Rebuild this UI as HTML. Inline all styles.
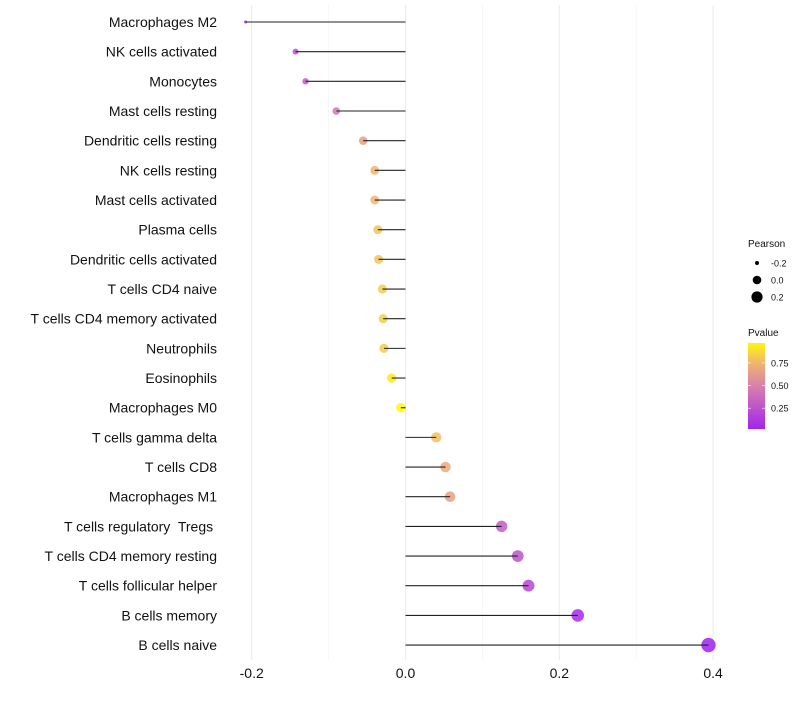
<!DOCTYPE html>
<html><head><meta charset="utf-8"><style>
body{margin:0;background:#fff;font-family:"Liberation Sans",sans-serif;}
svg text{font-family:"Liberation Sans",sans-serif;white-space:pre;}
</style></head><body>
<svg id="chart" width="800" height="700"></svg>
<script>
const categories=["Macrophages M2","NK cells activated","Monocytes","Mast cells resting","Dendritic cells resting","NK cells resting","Mast cells activated","Plasma cells","Dendritic cells activated","T cells CD4 naive","T cells CD4 memory activated","Neutrophils","Eosinophils","Macrophages M0","T cells gamma delta","T cells CD8","Macrophages M1","T cells regulatory  Tregs ","T cells CD4 memory resting","T cells follicular helper","B cells memory","B cells naive"];
const pearson=[-0.208,-0.143,-0.130,-0.090,-0.055,-0.040,-0.040,-0.036,-0.035,-0.030,-0.029,-0.028,-0.018,-0.006,0.040,0.052,0.058,0.125,0.146,0.160,0.224,0.394];
const pvalue=[0.02,0.25,0.3,0.45,0.65,0.75,0.75,0.8,0.8,0.83,0.83,0.83,0.93,0.98,0.78,0.7,0.65,0.3,0.25,0.2,0.05,0.0];
const xTicks=[-0.2,0,0.2,0.4];
const xTickLabels=["-0.2","0.0","0.2","0.4"];
const minorTicks=[-0.1,0.1,0.3];
const sizeLegend=[-0.2,0,0.2];
const colorLegendTicks=[0.25,0.5,0.75];

const NS="http://www.w3.org/2000/svg";
const svg=document.getElementById('chart');
function el(t,a){const e=document.createElementNS(NS,t);for(const k in a)e.setAttribute(k,a[k]);svg.appendChild(e);return e;}
const x=v=>405.5+v*769;
const y=i=>22+i*29.67;
const r=v=>Math.sqrt(Math.max(2,v<0?24+105*v:24+70*v));
function lerp(a,b,t){return a.map((c,i)=>Math.round(c+(b[i]-c)*t));}
function col(p){const P=[160,32,240],M=[216,130,170],O=[240,180,110],Y=[255,255,0];
 let c;if(p<0.5)c=lerp(P,M,p/0.5);else if(p<0.75)c=lerp(M,O,(p-0.5)/0.25);else c=lerp(O,Y,(p-0.75)/0.25);return `rgb(${c.join(',')})`;}
// grid
minorTicks.forEach(v=>{const g=el('line',{x1:x(v),x2:x(v),y1:5,y2:660,stroke:'#f2f2f2','stroke-width':0.6});

});
xTicks.forEach((v,i)=>{const g=el('line',{x1:x(v),x2:x(v),y1:5,y2:660,stroke:'#ebebeb','stroke-width':1.1});


const t=el('text',{x:x(v),y:678,'text-anchor':'middle','font-size':14,fill:'#111'});t.textContent=xTickLabels[i];

});
categories.forEach((c,i)=>{
 const t=el('text',{x:217,y:y(i)+5,'text-anchor':'end','font-size':14,fill:'#111'});t.textContent=c;
 
 
 const d=el('circle',{cx:x(pearson[i]),cy:y(i),r:r(pearson[i]),fill:col(pvalue[i]),'fill-opacity':0.85});
 
 
 const l=el('line',{x1:x(0),x2:x(pearson[i]),y1:y(i),y2:y(i),stroke:'#222','stroke-width':1.1});
 
 
});
// legends
let t=el('text',{x:748,y:247,'font-size':10,fill:'#111'});t.textContent='Pearson';


sizeLegend.forEach((v,i)=>{const cy=263+i*17;
 const c=el('circle',{cx:757,cy:cy,r:[2,4.3,5.6][i],fill:'#000'});
 
 
 const tt=el('text',{x:771,y:cy+3.5,'font-size':9,fill:'#111'});tt.textContent=(v<0?'-':'')+Math.abs(v).toFixed(1);
 
 });
t=el('text',{x:748,y:336,'font-size':10,fill:'#111'});t.textContent='Pvalue';


const defs=el('defs',{});const g=document.createElementNS(NS,'linearGradient');g.setAttribute('id','pg');g.setAttribute('x1',0);g.setAttribute('x2',0);g.setAttribute('y1',1);g.setAttribute('y2',0);defs.appendChild(g);
for(let k=0;k<=10;k++){const s=document.createElementNS(NS,'stop');s.setAttribute('offset',k/10);s.setAttribute('stop-color',col(0.02+k*0.095));g.appendChild(s);}
const cb=el('rect',{x:748,y:343,width:17,height:86,fill:'url(#pg)'});


const py=p=>429-(p-0.02)/0.95*86;
colorLegendTicks.forEach(p=>{
 el('line',{x1:748,x2:751,y1:py(p),y2:py(p),stroke:'#fff','stroke-width':0.6});
 el('line',{x1:762,x2:765,y1:py(p),y2:py(p),stroke:'#fff','stroke-width':0.6});
 const tt=el('text',{x:771,y:py(p)+3.5,'font-size':9,fill:'#111'});tt.textContent=p.toFixed(2);
 
 });
</script>
</body></html>
